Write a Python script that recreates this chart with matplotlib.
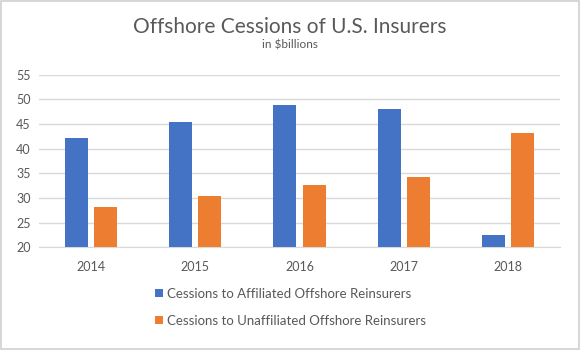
import numpy as np
import matplotlib.pyplot as plt
from matplotlib.patches import Rectangle

plt.rcParams['font.family'] = ['Lato', 'DejaVu Sans']

years = ['2014', '2015', '2016', '2017', '2018']
affiliated = [42.2, 45.4, 48.9, 48.1, 22.5]
unaffiliated = [28.2, 30.4, 32.6, 34.2, 43.2]
yticks = [20, 25, 30, 35, 40, 45, 50, 55]

text_col = '#595959'
grid_col = '#d9d9d9'

fig = plt.figure(figsize=(5.8, 3.5), dpi=100)
ax = fig.add_axes([0.067, 0.294, 0.899, 0.492])

x = np.arange(len(years))
w = 0.22
ax.bar(x - 0.14, affiliated, w, color='#4472c4', bottom=0,
       label='Cessions to Affiliated Offshore Reinsurers', zorder=3)
ax.bar(x + 0.14, unaffiliated, w, color='#ed7d31', bottom=0,
       label='Cessions to Unaffiliated Offshore Reinsurers', zorder=3)

ax.set_xlim(-0.5, len(years) - 0.5)
ax.set_ylim(20, 55)
ax.set_yticks(yticks)
ax.set_xticks(x)
ax.set_xticklabels(years)
ax.yaxis.grid(True, color=grid_col, lw=1, zorder=0)
for s in ['top', 'right', 'left']:
    ax.spines[s].set_visible(False)
ax.spines['bottom'].set_color(grid_col)
ax.tick_params(length=0, labelsize=9, colors=text_col)
ax.tick_params(axis='x', pad=10)
ax.tick_params(axis='y', pad=6)

fig.text(0.5, 0.922, 'Offshore Cessions of U.S. Insurers', ha='center',
         va='center', fontsize=15, color=text_col)
fig.text(0.5, 0.872, 'in $billions', ha='center', va='center',
         fontsize=8.5, color=text_col)

fig.legend(loc='upper left', bbox_to_anchor=(0.268, 0.178), frameon=False,
           fontsize=9.5, labelcolor=text_col, handlelength=0.6,
           handleheight=0.6, handletextpad=0.3, labelspacing=1.15,
           borderaxespad=0, borderpad=0)

fig.patches.append(Rectangle((0.002, 0.003), 0.996, 0.994, transform=fig.transFigure,
                             fill=False, edgecolor='#d0d0d0', lw=1.2))

fig.savefig('out.png', dpi=100)
